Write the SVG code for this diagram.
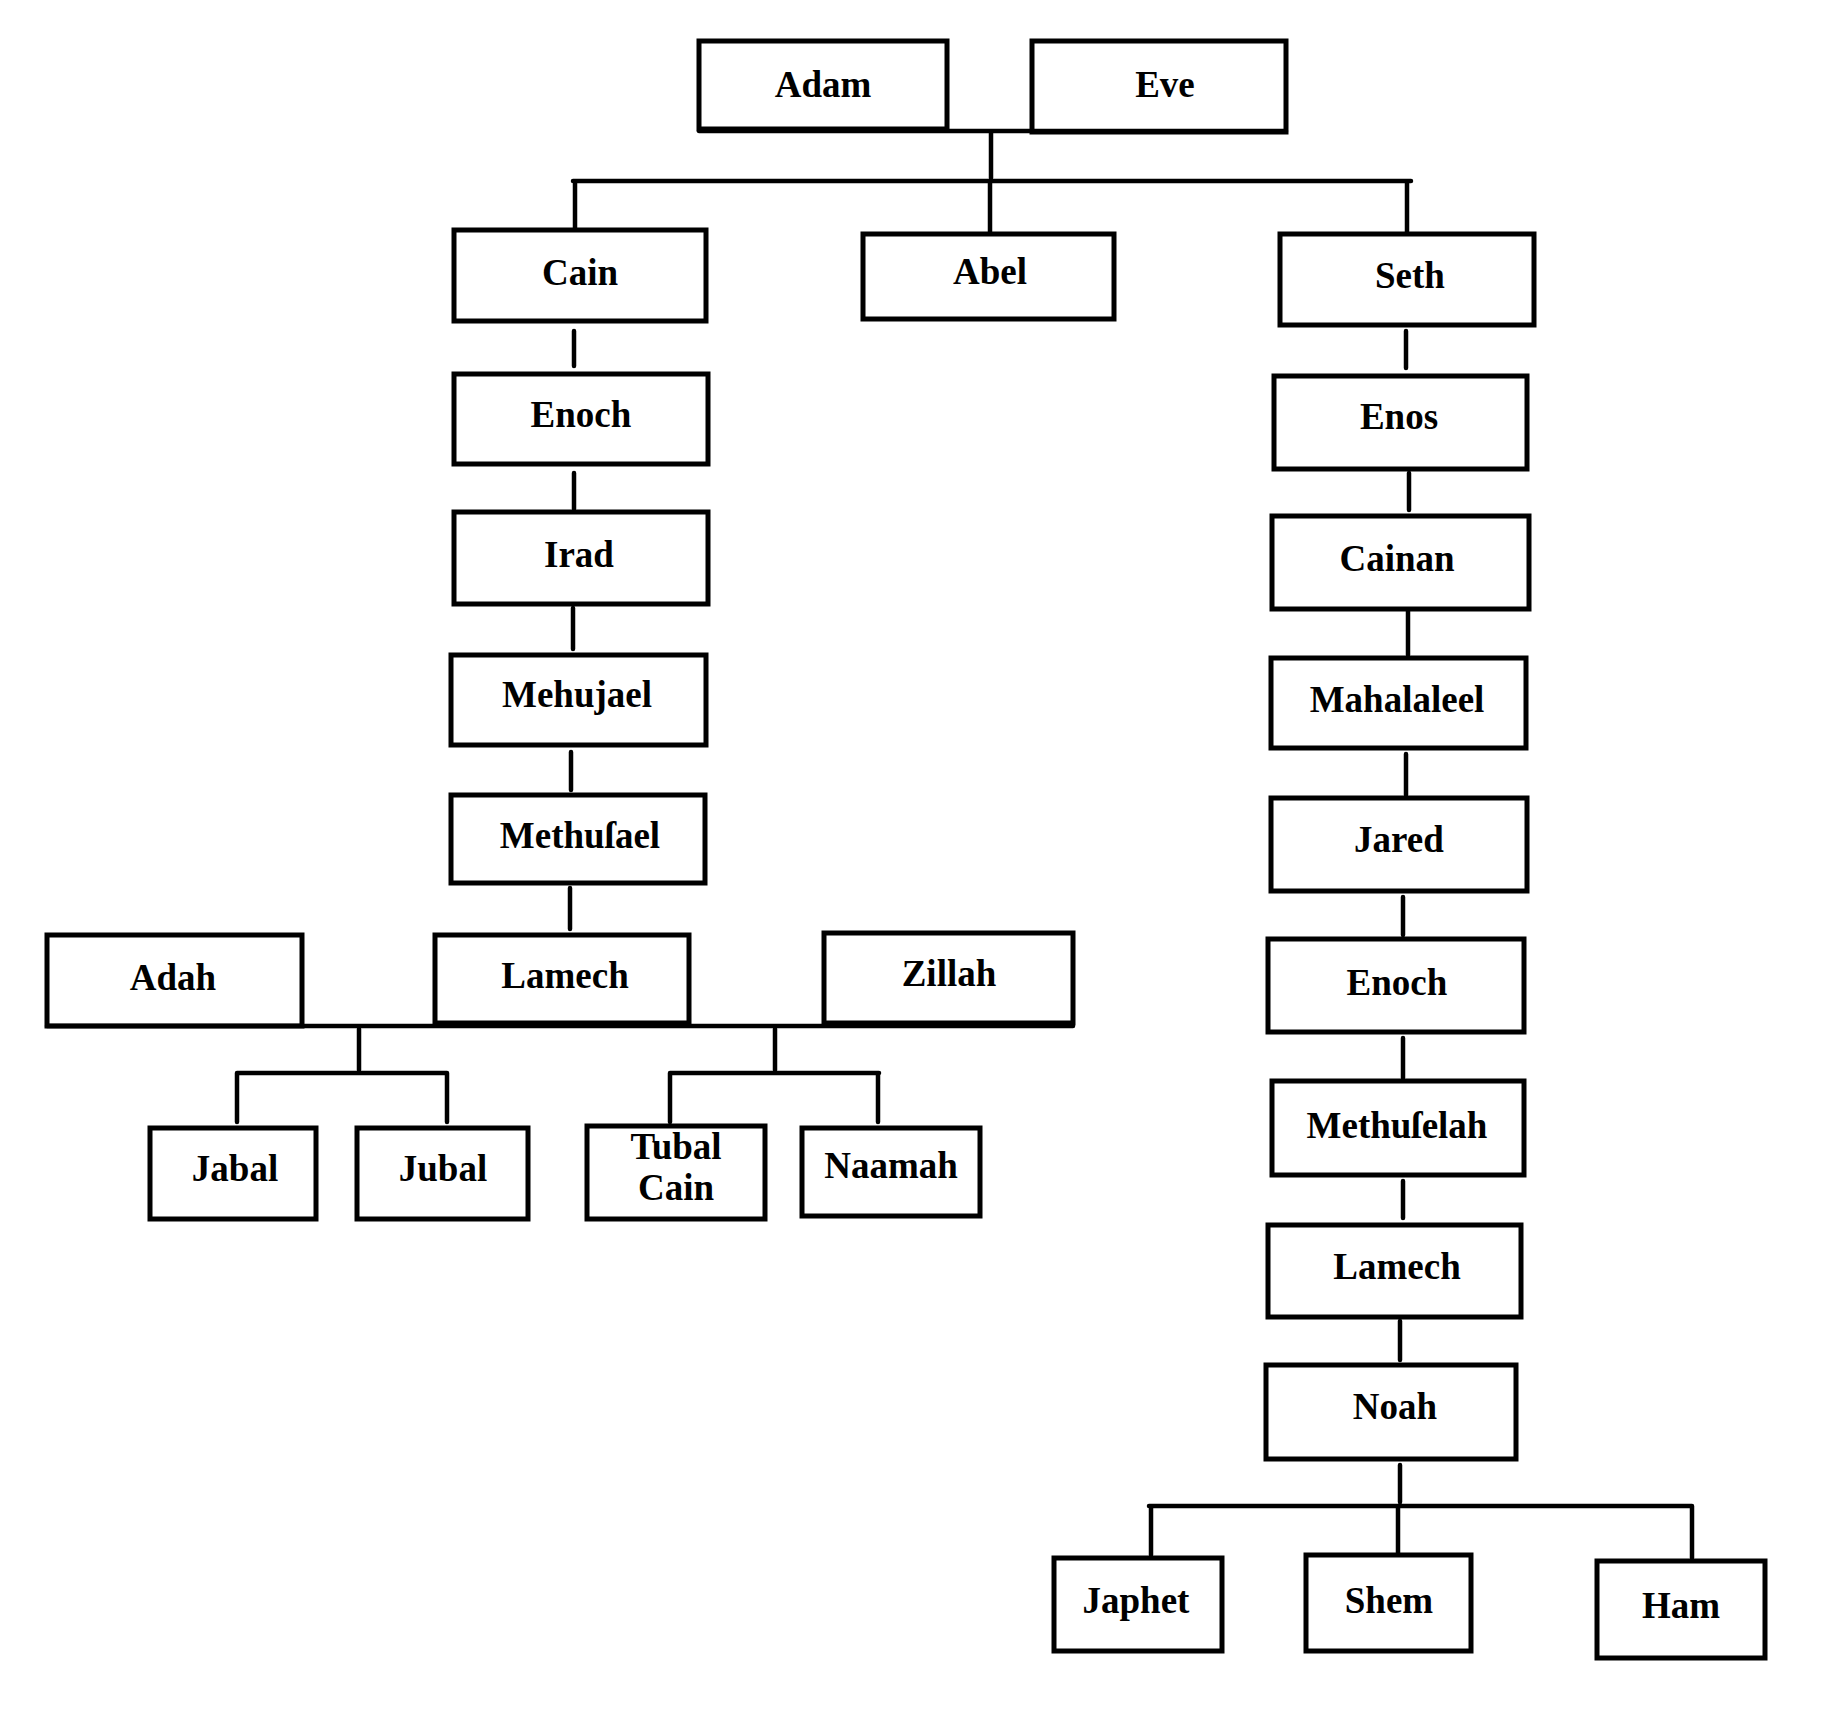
<svg xmlns="http://www.w3.org/2000/svg" width="1833" height="1727" viewBox="0 0 1833 1727">
<style>
.b{fill:none;stroke:#000;stroke-width:5}
.c{fill:none;stroke:#000;stroke-width:4.5;stroke-linecap:round}
.t{font-family:"Liberation Serif","Times New Roman",serif;font-weight:bold;font-size:37px;text-anchor:middle;fill:#000}
</style>
<rect width="1833" height="1727" fill="#fff"/>
<g id="connectors">
<path class="c" d="M699 131H1286M991 132V178M573 181H1411M575 181V228M990 181V232M1407 181V232"/>
<path class="c" d="M574 331V366M574 473V509M573 608V649M571 752V790M570 888V929"/>
<path class="c" d="M47 1026H1073M359 1029V1070M775 1029V1070M237 1073H447M670 1073H879M237 1073V1122M447 1073V1122M670 1073V1122M878 1073V1122"/>
<path class="c" d="M1406 331V368M1409 473V510M1408 611V655M1406 754V795M1403 897V935M1403 1038V1078M1403 1181V1218M1400 1321V1360M1400 1465V1502M1149 1506H1692M1151 1506V1555M1398 1506V1553M1692 1506V1558"/>
</g>
<g id="adam"><rect class="b" x="699" y="41" width="248" height="88"/><text class="t" x="823" y="97">Adam</text></g>
<g id="eve"><rect class="b" x="1032" y="41" width="254" height="91"/><text class="t" x="1165" y="97">Eve</text></g>
<g id="cain"><rect class="b" x="454" y="230" width="252" height="91"/><text class="t" x="580" y="285">Cain</text></g>
<g id="abel"><rect class="b" x="863" y="234" width="251" height="85"/><text class="t" x="990" y="284">Abel</text></g>
<g id="seth"><rect class="b" x="1280" y="234" width="254" height="91"/><text class="t" x="1410" y="288">Seth</text></g>
<g id="enoch1"><rect class="b" x="454" y="374" width="254" height="90"/><text class="t" x="581" y="427">Enoch</text></g>
<g id="irad"><rect class="b" x="454" y="512" width="254" height="92"/><text class="t" x="579" y="567">Irad</text></g>
<g id="mehujael"><rect class="b" x="451" y="655" width="255" height="90"/><text class="t" x="577" y="707">Mehujael</text></g>
<g id="methusael"><rect class="b" x="451" y="795" width="254" height="88"/><text class="t" x="580" y="848">Methuſael</text></g>
<g id="adah"><rect class="b" x="47" y="935" width="255" height="91"/><text class="t" x="173" y="990">Adah</text></g>
<g id="lamech1"><rect class="b" x="435" y="935" width="254" height="88"/><text class="t" x="565" y="988">Lamech</text></g>
<g id="zillah"><rect class="b" x="824" y="933" width="249" height="90"/><text class="t" x="949" y="986">Zillah</text></g>
<g id="jabal"><rect class="b" x="150" y="1128" width="166" height="91"/><text class="t" x="235" y="1181">Jabal</text></g>
<g id="jubal"><rect class="b" x="357" y="1128" width="171" height="91"/><text class="t" x="443" y="1181">Jubal</text></g>
<g id="tubalcain"><rect class="b" x="587" y="1126" width="178" height="93"/><text class="t" x="676" y="1159">Tubal</text><text class="t" x="676" y="1200">Cain</text></g>
<g id="naamah"><rect class="b" x="802" y="1128" width="178" height="88"/><text class="t" x="891" y="1178">Naamah</text></g>
<g id="enos"><rect class="b" x="1274" y="376" width="253" height="93"/><text class="t" x="1399" y="429">Enos</text></g>
<g id="cainan"><rect class="b" x="1272" y="516" width="257" height="93"/><text class="t" x="1397" y="571">Cainan</text></g>
<g id="mahalaleel"><rect class="b" x="1271" y="658" width="255" height="90"/><text class="t" x="1397" y="712">Mahalaleel</text></g>
<g id="jared"><rect class="b" x="1271" y="798" width="256" height="93"/><text class="t" x="1399" y="852">Jared</text></g>
<g id="enoch2"><rect class="b" x="1268" y="939" width="256" height="93"/><text class="t" x="1397" y="995">Enoch</text></g>
<g id="methuselah"><rect class="b" x="1272" y="1081" width="252" height="94"/><text class="t" x="1397" y="1138">Methuſelah</text></g>
<g id="lamech2"><rect class="b" x="1268" y="1225" width="253" height="92"/><text class="t" x="1397" y="1279">Lamech</text></g>
<g id="noah"><rect class="b" x="1266" y="1365" width="250" height="94"/><text class="t" x="1395" y="1419">Noah</text></g>
<g id="japhet"><rect class="b" x="1054" y="1558" width="168" height="93"/><text class="t" x="1136" y="1613">Japhet</text></g>
<g id="shem"><rect class="b" x="1306" y="1555" width="165" height="96"/><text class="t" x="1389" y="1613">Shem</text></g>
<g id="ham"><rect class="b" x="1597" y="1561" width="168" height="97"/><text class="t" x="1681" y="1618">Ham</text></g>
</svg>
